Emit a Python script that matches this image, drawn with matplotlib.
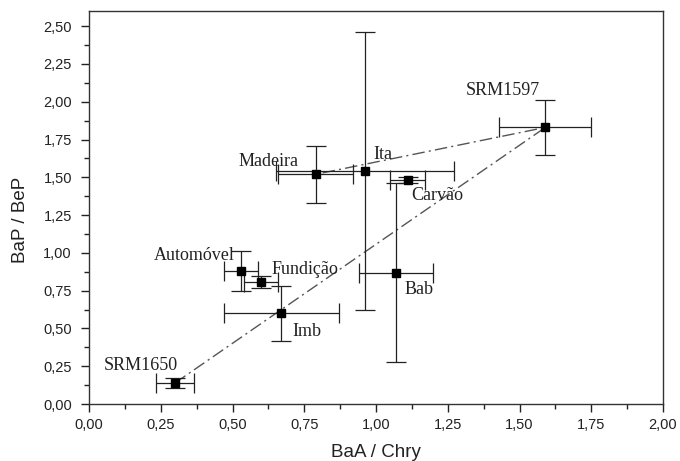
import matplotlib
matplotlib.use("Agg")
import matplotlib.pyplot as plt
from matplotlib.ticker import MultipleLocator, FuncFormatter

names = ["SRM1650", "Automóvel", "Fundição", "Imb", "Bab", "Ita", "Madeira", "Carvão", "SRM1597"]
x = [0.30, 0.53, 0.60, 0.67, 1.07, 0.96, 0.79, 1.11, 1.59]
y = [0.14, 0.88, 0.81, 0.60, 0.87, 1.54, 1.52, 1.485, 1.83]
xerr = [0.067, 0.06, 0.06, 0.20, 0.13, 0.31, 0.13, 0.06, 0.16]
yerr = [0.035, 0.13, 0.04, 0.18, 0.59, 0.92, 0.19, 0.02, 0.18]

# label anchor (data coords) and alignment
label_x = [0.31, 0.508, 0.636, 0.709, 1.10, 0.99, 0.73, 1.121, 1.313]
label_y = [0.223, 0.95, 0.862, 0.448, 0.73, 1.62, 1.574, 1.35, 2.046]
label_ha = ["right", "right", "left", "left", "left", "left", "right", "left", "left"]

line_pts = ["SRM1650", "SRM1597", "Madeira"]

fig = plt.figure(figsize=(6.8, 4.61), dpi=100)
ax = fig.add_axes([0.131, 0.1236, 0.975 - 0.131, 0.976 - 0.1236])

lx = [x[names.index(n)] for n in line_pts]
ly = [y[names.index(n)] for n in line_pts]
ax.plot(lx, ly, linestyle=(0, (9, 3, 1.5, 3)), color="#555555", lw=1.0, zorder=1)

ax.errorbar(x, y, xerr=xerr, yerr=yerr, fmt="s", color="black", ms=5.5,
            ecolor="#222222", elinewidth=0.9, capsize=7, capthick=0.9, zorder=3)

for n, tx, ty, ha in zip(names, label_x, label_y, label_ha):
    ax.text(tx, ty, n, ha=ha, va="baseline", fontsize=13,
            family="Liberation Serif", color="#222222")

ax.set_xlim(0, 2.0)
ax.set_ylim(0, 2.6)
ax.xaxis.set_major_locator(MultipleLocator(0.25))
ax.xaxis.set_minor_locator(MultipleLocator(0.125))
ax.yaxis.set_major_locator(MultipleLocator(0.25))
ax.yaxis.set_minor_locator(MultipleLocator(0.125))
fmt = FuncFormatter(lambda v, p: f"{v:.2f}".replace(".", ","))
ax.xaxis.set_major_formatter(fmt)
ax.yaxis.set_major_formatter(fmt)
ax.tick_params(which="major", direction="out", length=5.8, width=1, labelsize=10.5, colors="#222222")
ax.tick_params(which="minor", direction="out", length=3.6, width=1, colors="#222222")
ax.tick_params(axis="x", which="major", pad=4.6)
ax.tick_params(axis="y", which="major", pad=6.5)
for lab in ax.get_xticklabels() + ax.get_yticklabels():
    lab.set_family("Liberation Sans")
for s in ax.spines.values():
    s.set_color("#333333")
    s.set_linewidth(1)

ax.set_xlabel("BaA / Chry", fontsize=13.5, color="#222222", family="Liberation Sans")
ax.set_ylabel("BaP / BeP", fontsize=13.5, color="#222222", family="Liberation Sans")
ax.xaxis.set_label_coords(0.5, -0.102)
ax.yaxis.set_label_coords(-0.105, 0.468)

fig.savefig("out.png", dpi=100)
